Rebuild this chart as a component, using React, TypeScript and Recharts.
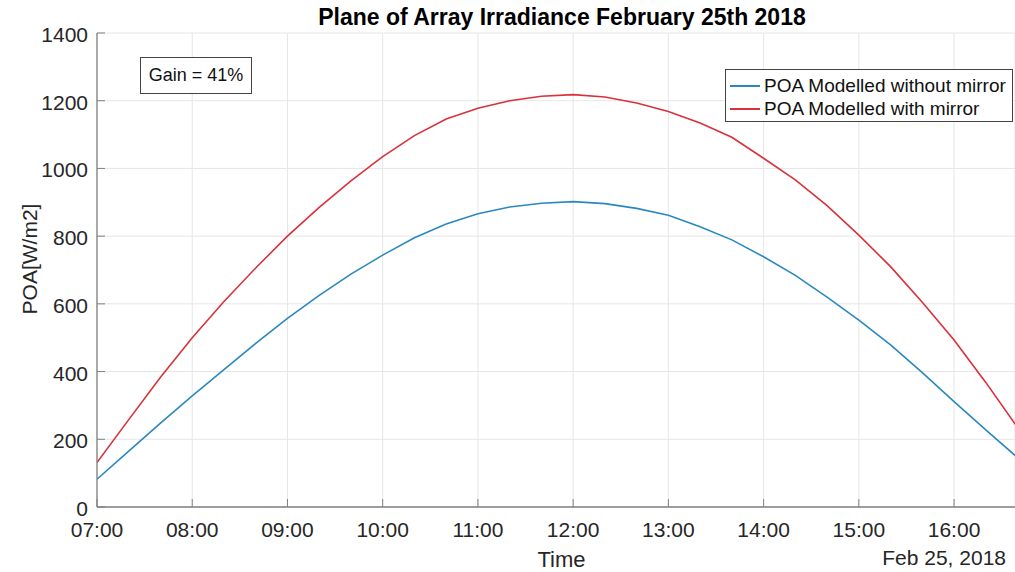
import React from 'react';
import { LineChart, Line, XAxis, YAxis, CartesianGrid, Legend } from 'recharts';

const times = [
  '07:00', '07:20', '07:40', '08:00', '08:20', '08:40', '09:00', '09:20', '09:40', '10:00',
  '10:20', '10:40', '11:00', '11:20', '11:40', '12:00', '12:20', '12:40', '13:00', '13:20',
  '13:40', '14:00', '14:20', '14:40', '15:00', '15:20', '15:40', '16:00', '16:20', '16:40',
];
const poaWithoutMirror = [
  82, 165, 248, 328, 406, 483, 557, 625, 688, 744,
  795, 836, 866, 886, 897, 902, 896, 882, 862, 828,
  789, 739, 684, 620, 552, 479, 397, 311, 228, 146,
];
const poaWithMirror = [
  131, 258, 383, 500, 607, 706, 800, 885, 963, 1035,
  1097, 1146, 1178, 1200, 1213, 1218, 1211, 1193, 1168, 1134,
  1092, 1030, 966, 890, 803, 710, 605, 493, 368, 235,
];
const xTickLabels = ['07:00', '08:00', '09:00', '10:00', '11:00', '12:00', '13:00', '14:00', '15:00', '16:00'];
const yTicks = [0, 200, 400, 600, 800, 1000, 1200, 1400];
const seriesNames = ['POA Modelled without mirror', 'POA Modelled with mirror'];
const seriesColors = ['#2b88bf', '#d9313a'];

const toHours = (s: string) => {
  const [h, m] = s.split(':').map(Number);
  return h + m / 60;
};
const fmtHour = (v: number) => {
  const h = Math.floor(v + 1e-6);
  const m = Math.round((v - h) * 60);
  return `${String(h).padStart(2, '0')}:${String(m).padStart(2, '0')}`;
};

const data = times.map((t, i) => ({
  t: toHours(t),
  without: poaWithoutMirror[i],
  with: poaWithMirror[i],
}));
const xTicks = xTickLabels.map(toHours);

const FONT = '"Liberation Sans", Arial, Helvetica, sans-serif';
const AXIS = '#808080';
const TXT = '#262626';

const BottomTick = (props: any) => {
  const { x, y, payload } = props;
  return (
    <g>
      <line x1={x} y1={y} x2={x} y2={y - 8} stroke={AXIS} strokeWidth={1} />
      <text x={x} y={y + 30} textAnchor="middle" fontSize={21} fontFamily={FONT} fill={TXT}>
        {fmtHour(payload.value)}
      </text>
    </g>
  );
};
const TopTick = (props: any) => {
  const { x, y } = props;
  return <line x1={x} y1={y} x2={x} y2={y + 8} stroke={AXIS} strokeWidth={1} />;
};
const LeftTick = (props: any) => {
  const { x, y, payload } = props;
  return (
    <g>
      <line x1={x} y1={y} x2={x + 8} y2={y} stroke={AXIS} strokeWidth={1} />
      <text x={x - 9} y={y + 9} textAnchor="end" fontSize={21} fontFamily={FONT} fill={TXT}>
        {payload.value}
      </text>
    </g>
  );
};

const LegendBox = () => (
  <div
    style={{
      width: 286,
      height: 51,
      border: '1px solid #444',
      background: '#fff',
      fontFamily: FONT,
      fontSize: 19,
      color: '#111',
      boxSizing: 'content-box',
      padding: 0,
    }}
  >
    {seriesNames.map((n, i) => (
      <div key={n} style={{ display: 'flex', alignItems: 'center', height: 23, marginTop: i === 0 ? 4 : 0 }}>
        <div style={{ width: 30, height: 0, borderTop: `2px solid ${seriesColors[i]}`, marginLeft: 4, marginRight: 4 }} />
        <span style={{ whiteSpace: 'nowrap', lineHeight: '23px' }}>{n}</span>
      </div>
    ))}
  </div>
);

export default function App() {
  return (
    <div style={{ position: 'absolute', left: 0, top: 0, width: 1015, height: 572, background: '#fff' }}>
      <LineChart
        width={1015}
        height={572}
        data={data}
        margin={{ top: 33, right: 0, left: 0, bottom: 0 }}
      >
        <CartesianGrid stroke="#e6e6e6" strokeWidth={1} />
        <XAxis
          dataKey="t"
          type="number"
          domain={[7, 16.64]}
          allowDataOverflow
          ticks={xTicks}
          tick={BottomTick}
          tickSize={0}
          tickMargin={0}
          tickLine={false}
          height={65}
          stroke={AXIS}
          axisLine={{ stroke: AXIS, strokeWidth: 1.3 }}
          interval={0}
        />
        <XAxis
          xAxisId="top"
          orientation="top"
          dataKey="t"
          type="number"
          domain={[7, 16.64]}
          allowDataOverflow
          ticks={xTicks}
          tick={TopTick}
          tickSize={0}
          tickMargin={0}
          tickLine={false}
          height={0}
          axisLine={{ stroke: AXIS, strokeWidth: 1.3 }}
          interval={0}
        />
        <YAxis
          type="number"
          domain={[0, 1400]}
          ticks={yTicks}
          tick={LeftTick}
          tickSize={0}
          tickMargin={0}
          tickLine={false}
          width={97}
          axisLine={{ stroke: AXIS, strokeWidth: 1.3 }}
          interval={0}
        />
        <Legend
          layout="horizontal"
          verticalAlign="middle"
          align="center"
          content={() => <LegendBox />}
          wrapperStyle={{ position: 'absolute', left: 725, top: 69, width: 288, height: 53 }}
        />
        <Line
          type="linear"
          dataKey="without"
          name={seriesNames[0]}
          stroke={seriesColors[0]}
          strokeWidth={1.6}
          dot={false}
          isAnimationActive={false}
        />
        <Line
          type="linear"
          dataKey="with"
          name={seriesNames[1]}
          stroke={seriesColors[1]}
          strokeWidth={1.6}
          dot={false}
          isAnimationActive={false}
        />
      </LineChart>
      <svg
        width={1015}
        height={572}
        style={{ position: 'absolute', left: 0, top: 0, pointerEvents: 'none' }}
      >
        <text x={562} y={25} textAnchor="middle" fontSize={23} fontWeight="bold" fontFamily={FONT} fill="#000">
          Plane of Array Irradiance February 25th 2018
        </text>
        <text
          x={37}
          y={259}
          textAnchor="middle"
          fontSize={21}
          fontFamily={FONT}
          fill={TXT}
          transform="rotate(-90 37 259)"
        >
          POA[W/m2]
        </text>
        <text x={561.5} y={566.5} textAnchor="middle" fontSize={22} fontFamily={FONT} fill={TXT}>
          Time
        </text>
        <text x={1006} y={565} textAnchor="end" fontSize={21} fontFamily={FONT} fill={TXT}>
          Feb 25, 2018
        </text>
      </svg>
      <div
        style={{
          position: 'absolute',
          left: 140,
          top: 57,
          width: 110,
          height: 35,
          border: '1px solid #444',
          background: '#fff',
          fontFamily: FONT,
          fontSize: 18,
          color: '#111',
          display: 'flex',
          alignItems: 'center',
          justifyContent: 'center',
        }}
      >
        Gain = 41%
      </div>
    </div>
  );
}
